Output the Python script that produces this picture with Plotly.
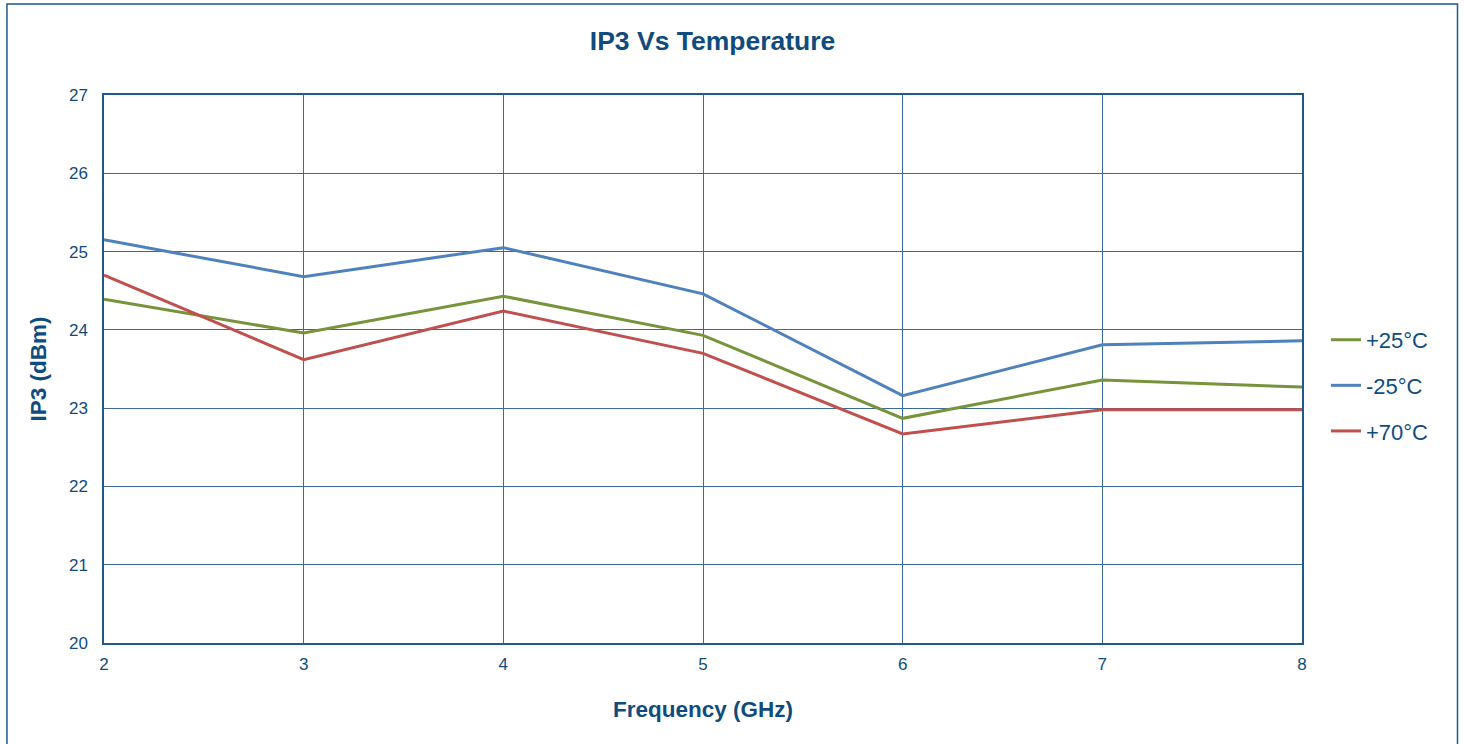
import plotly.graph_objects as go

freq = [2, 3, 4, 5, 6, 7, 8]
ip3_p25 = [24.39, 23.96, 24.43, 23.93, 22.87, 23.36, 23.27]
ip3_m25 = [25.15, 24.68, 25.05, 24.46, 23.16, 23.81, 23.86]
ip3_p70 = [24.70, 23.62, 24.24, 23.70, 22.67, 22.98, 22.98]

names = ["+25°C", "-25°C", "+70°C"]
colors = ["#77933C", "#4F81BD", "#C0504D"]
series = [ip3_p25, ip3_m25, ip3_p70]

txt = "#0F4C7D"
font = "Liberation Sans, Arial, sans-serif"

fig = go.Figure()
for n, c, s in zip(names, colors, series):
    fig.add_trace(go.Scatter(x=freq, y=s, name=n, mode="lines",
                             line=dict(color=c, width=3), legendgroup=n))

fig.update_layout(
    width=1464, height=744,
    margin=dict(l=104, r=162, t=95, b=101),
    paper_bgcolor="white", plot_bgcolor="white",
    font=dict(family=font, color=txt),
    title=dict(text="<b>IP3 Vs Temperature</b>", x=0.508, xref="paper",
               xanchor="center", y=0.945, yanchor="middle",
               font=dict(size=26.5, color=txt, family=font)),
    legend=dict(x=1.02, y=0.47, xanchor="left", yanchor="middle",
                font=dict(size=22, color=txt), traceorder="grouped",
                tracegroupgap=14, itemwidth=30, bgcolor="rgba(0,0,0,0)"),
    showlegend=True,
)
fig.update_xaxes(range=[2, 8], tickvals=freq, ticks="", showgrid=True,
                 gridcolor="#3A6A95", gridwidth=1, showline=True, linecolor="#1F5A8A",
                 linewidth=1.5, mirror=True, zeroline=False, ticklabelstandoff=5,
                 tickfont=dict(size=17, color=txt),
                 title=dict(text="<b>Frequency (GHz)</b>", font=dict(size=22.5, color=txt), standoff=28))
fig.update_yaxes(range=[20, 27], dtick=1, ticks="", showgrid=True,
                 gridcolor="#3A6A95", gridwidth=1, showline=True, linecolor="#1F5A8A",
                 linewidth=1.5, mirror=True, zeroline=False, ticklabelstandoff=11,
                 tickfont=dict(size=17, color=txt),
                 title=dict(text="<b>IP3 (dBm)</b>", font=dict(size=22.5, color=txt), standoff=16))

fig.add_shape(type="rect", xref="paper", yref="paper",
              x0=-0.081, x1=1.1298, y0=-0.2, y1=1.166,
              line=dict(color="#1F5A8A", width=1.5), fillcolor="rgba(0,0,0,0)", layer="below")

fig.write_html("out.html", config={"displayModeBar": False},
               post_script="document.body.style.margin='0';document.body.style.overflow='hidden';")
